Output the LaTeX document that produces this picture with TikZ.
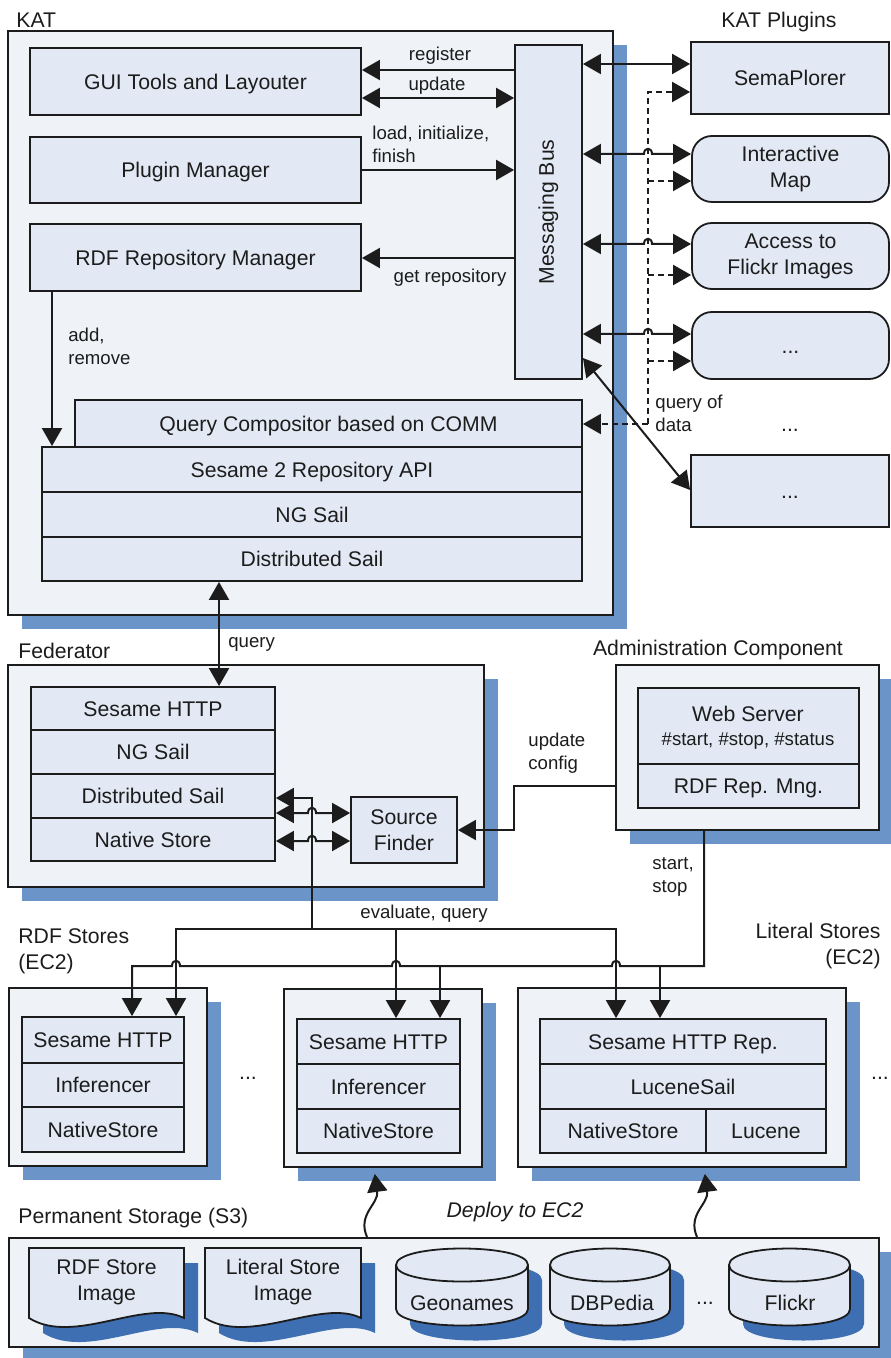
\documentclass[tikz,border=0pt]{standalone}
\usepackage{fontspec}
\usepackage{graphicx}
\setmainfont{Liberation Sans}
\usetikzlibrary{arrows.meta,shadows}
\definecolor{outerfill}{RGB}{239,243,248}
\definecolor{innerfill}{RGB}{226,233,244}
\definecolor{shlight}{RGB}{107,148,200}
\definecolor{shdark}{RGB}{62,111,178}
\definecolor{ink}{RGB}{28,28,28}
\newcommand\mainf{\fontsize{10.6}{13}\selectfont}
\newcommand\smallf{\fontsize{9.3}{11.4}\selectfont}
% box node from corner coordinates (pixel units)
\newcommand\bx[7][innerbox,oneline]{%
  \node[#1,minimum width={(#5-#3)*0.5pt},minimum height={(#6-#4)*0.5pt}] (#2) at ({(#3+#5)/2},{(#4+#6)/2}) {#7};}
\newcommand\dbcyl[2]{%
  \fill[shdark] ({#1+14},1280) -- ({#1+14},1324) .. controls ({#1+14},1346) and ({#2+14},1346) .. ({#2+14},1324) -- ({#2+14},1280) .. controls ({#2+14},1258) and ({#1+14},1258) .. ({#1+14},1280) -- cycle;
  \filldraw[fill=innerfill,draw=ink,line width=0.9pt] (#1,1265) -- (#1,1309) .. controls (#1,1331) and (#2,1331) .. (#2,1309) -- (#2,1265) .. controls (#2,1243) and (#1,1243) .. (#1,1265) -- cycle;
  \draw[draw=ink,line width=0.9pt] (#1,1265) .. controls (#1,1287) and (#2,1287) .. (#2,1265);
}
\newcommand\docshape[3]{%
  \begin{scope}[shift={({#1+14},{#2+15})}]
    \fill[shdark] (0,0) -- (#3,0) -- (#3,70) .. controls ({#3-40},50) and (45,98) .. (0,70) -- cycle;
  \end{scope}
  \begin{scope}[shift={(#1,#2)}]
    \filldraw[fill=innerfill,draw=ink,line width=0.9pt] (0,0) -- (#3,0) -- (#3,70) .. controls ({#3-40},50) and (45,98) .. (0,70) -- cycle;
  \end{scope}
}
\begin{document}
\begin{tikzpicture}[x=0.5pt,y=-0.5pt,
  >={Triangle[length=9pt,width=10pt]},
  outerbox/.style={draw=ink,line width=1pt,fill=outerfill,inner sep=0pt,
     drop shadow={shadow xshift=7pt,shadow yshift=-7pt,fill=shlight,opacity=1}},
  innerbox/.style={draw=ink,line width=0.9pt,fill=innerfill,inner sep=0pt,
     font=\mainf,text=ink,align=center},
  oneline/.style={text height=7.6pt,text depth=0pt},
  roundbox/.style={innerbox,rounded corners=10pt},
  title/.style={font=\mainf,text=ink,inner sep=0pt},
  lbl/.style={font=\smallf,text=ink,inner sep=0pt,align=left},
  conn/.style={draw=ink,line width=1pt},
  dsh/.style={conn,dash pattern=on 3pt off 2pt},
]
\useasboundingbox (0,0) rectangle (890,1358);

% ---------------- KAT ----------------
\node[title,anchor=west] (katl) at (16,20) {KAT};
\bx[outerbox]{kat}{8}{31}{613}{615}{}
\bx{gui}{30}{48}{361}{115}{GUI Tools and Layouter}
\bx{pm}{30}{137}{361}{203}{Plugin Manager}
\bx{rdfm}{30}{224}{361}{291}{RDF Repository Manager}
\bx[innerbox]{bus}{515}{45}{582}{379}{\rotatebox{90}{Messaging Bus}}
\bx{qc}{75}{400}{582}{447}{Query Compositor based on COMM}
\bx{s2}{42}{447}{582}{492}{Sesame 2 Repository API}
\bx{ng}{42}{492}{582}{537}{NG Sail}
\bx{ds}{42}{537}{582}{581}{Distributed Sail}

\draw[conn,->] (bus.west |- 0,70) -- (gui.east |- 0,70);
\draw[conn,<->] (gui.east |- 0,98) -- (bus.west |- 0,98);
\draw[conn,->] (pm.east |- 0,170) -- (bus.west |- 0,170);
\draw[conn,->] (bus.west |- 0,258) -- (rdfm.east |- 0,258);
\draw[conn,->] (rdfm.south -| 52,0) -- (s2.north -| 52,0);
\node[lbl] (lreg) at (440,56) {register};
\node[lbl] (lupd) at (437,86) {update};
\node[lbl,anchor=west] (lload) at (372,144) {load, initialize,\\finish};
\node[lbl] (lget) at (450,278) {get repository};
\node[lbl,anchor=west] (ladd) at (68,346) {add,\\remove};

% ---------------- Plugins ----------------
\node[title] (plugl) at (779,22) {KAT Plugins};
\bx{sema}{691}{42}{889}{114}{SemaPlorer}
\bx[roundbox]{imap}{692}{136}{889}{202}{Interactive\\Map}
\bx[roundbox]{flickr}{692}{223}{889}{289}{Access to\\Flickr Images}
\bx[roundbox,oneline]{pdots}{692}{312}{889}{379}{...}
\node[title] (pdotsb) at (790,430) {...};
\bx{pmore}{691}{455}{889}{527}{...}

\draw[conn,<->] (bus.east |- 0,64) -- (sema.west |- 0,64);
\draw[conn,<->] (bus.east |- 0,154) -- (644,154) .. controls (644,147) and (652,147) .. (652,154) -- (imap.west |- 0,154);
\draw[conn,<->] (bus.east |- 0,244) -- (644,244) .. controls (644,237) and (652,237) .. (652,244) -- (flickr.west |- 0,244);
\draw[conn,<->] (bus.east |- 0,334) -- (644,334) .. controls (644,327) and (652,327) .. (652,334) -- (pdots.west |- 0,334);
\coordinate (dq) at (648,424);
\draw[dsh,->] (dq) -- (qc.east |- dq);
\draw[dsh,->] (dq) -- (dq |- 0,92) -- (sema.west |- 0,92);
\draw[dsh,->] (dq |- 0,181) -- (imap.west |- 0,181);
\draw[dsh,->] (dq |- 0,275) -- (flickr.west |- 0,275);
\draw[dsh,->] (dq |- 0,361) -- (pdots.west |- 0,361);
\node[lbl,anchor=west] (lqod) at (655,413) {query of\\data};
\draw[conn,<->] (bus.east |- 0,358) -- (pmore.west |- 0,490);

% ---------------- Federator ----------------
\node[title,anchor=west] (fedl) at (18,651) {Federator};
\bx[outerbox]{fed}{8}{665}{484}{887}{}
\bx{fsh}{31}{687}{275}{730}{Sesame HTTP}
\bx{fng}{31}{730}{275}{774}{NG Sail}
\bx{fds}{31}{774}{275}{818}{Distributed Sail}
\bx{fns}{31}{818}{275}{861}{Native Store}
\bx[innerbox]{sf}{351}{797}{457}{863}{Source\\Finder}
\draw[conn,<->] (fsh.north -| 219,0) -- (ds.south -| 219,0);
\node[lbl,anchor=west] (lq) at (228,644) {query};

% ---------------- Administration ----------------
\node[title] (adml) at (718,650) {Administration Component};
\bx[outerbox]{adm}{616}{665}{879}{830}{}
\bx{web}{638}{688}{859}{764}{}
\node[title] (webt) at (748,714) {Web Server};
\node[lbl] (webc) at (748,741) {\#start, \#stop, \#status};
\bx{rrm}{638}{764}{859}{808}{RDF Rep. Mng.}
\draw[conn,->] (adm.west |- 0,786) -- (514,786) -- (514,830) -- (sf.east |- 0,830);
\node[lbl,anchor=west] (lupc) at (528,753) {update\\config};

% ---------------- Stores ----------------
\node[title,anchor=west,align=left] (rdfl) at (18,951) {RDF Stores\\(EC2)};
\node[title,anchor=east,align=right] (litl) at (881,946) {Literal Stores\\(EC2)};
\bx[outerbox]{rs1}{9}{988}{207}{1166}{}
\bx{r1sh}{22}{1017}{184}{1063}{Sesame HTTP}
\bx{r1in}{22}{1063}{184}{1107}{Inferencer}
\bx{r1ns}{22}{1107}{184}{1152}{NativeStore}
\node[title] (rdots) at (248,1078) {...};
\bx[outerbox]{rs2}{284}{989}{482}{1167}{}
\bx{r2sh}{297}{1019}{460}{1064}{Sesame HTTP}
\bx{r2in}{297}{1064}{460}{1109}{Inferencer}
\bx{r2ns}{297}{1109}{460}{1153}{NativeStore}
\bx[outerbox]{ls}{518}{988}{846}{1167}{}
\bx{lsh}{540}{1019}{826}{1064}{Sesame HTTP Rep.}
\bx{lls}{540}{1064}{826}{1109}{LuceneSail}
\bx{lns}{540}{1109}{706}{1153}{NativeStore}
\bx{llu}{706}{1109}{826}{1153}{Lucene}
\node[title] (ldots) at (880,1078) {...};

% evaluate, query
\coordinate (evq) at (312,929);
\draw[conn,<-] (fds.east |- 0,798) -- (evq |- 0,798) -- (evq);
\draw[conn,->] (evq) -- (176,929) -- (r1sh.north -| 176,0);
\draw[conn,->] (evq) -- (396,929) -- (r2sh.north -| 396,0);
\draw[conn,->] (evq) -- (616,929) -- (lsh.north -| 616,0);
\draw[conn,<->] (fds.east |- 0,813) -- (308,813) .. controls (308,806) and (316,806) .. (316,813) -- (sf.west |- 0,813);
\draw[conn,<->] (fns.east |- 0,841) -- (308,841) .. controls (308,834) and (316,834) .. (316,841) -- (sf.west |- 0,841);
\node[lbl] (leq) at (424,914) {evaluate, query};

% start, stop
\coordinate (ss) at (704,966);
\draw[conn,->] (adm.south -| ss) -- (ss) -- (620,966) .. controls (620,959) and (612,959) .. (612,966) -- (400,966) .. controls (400,959) and (392,959) .. (392,966) -- (180,966) .. controls (180,959) and (172,959) .. (172,966) -- (132,966) -- (r1sh.north -| 132,0);
\draw[conn,->] (660,966) -- (lsh.north -| 660,0);
\draw[conn,->] (440,966) -- (r2sh.north -| 440,0);
\node[lbl,anchor=west] (lss) at (652,877) {start,\\stop};

% ---------------- Permanent storage ----------------
\node[title,anchor=west] (psl) at (18,1218) {Permanent Storage (S3)};
\node[font=\mainf\itshape,text=ink,inner sep=0pt] (dep) at (515,1212) {Deploy to EC2};
\bx[outerbox]{ps}{9}{1238}{879}{1347}{}
\draw[conn,->,shorten >=3pt] (ps.north -| 367,0) .. controls (357,1214) and (379,1204) .. (rs2.south -| 374,0);
\draw[conn,->,shorten >=3pt] (ps.north -| 697,0) .. controls (687,1214) and (709,1204) .. (ls.south -| 704,0);

\docshape{29}{1248}{155}
\node[title,align=center] (doc1) at (106.5,1282) {RDF Store\\Image};
\docshape{205}{1248}{156}
\node[title,align=center] (doc2) at (283,1282) {Literal Store\\Image};

\dbcyl{396}{528}
\node[title,text height=7.6pt,text depth=0pt] (geo) at (462,1303) {Geonames};
\dbcyl{550}{670}
\node[title,text height=7.6pt,text depth=0pt] (dbp) at (612,1303) {DBPedia};
\node[title] (sdots) at (705,1303) {...};
\dbcyl{729}{850}
\node[title,text height=7.6pt,text depth=0pt] (flk) at (790,1303) {Flickr};
\end{tikzpicture}
\end{document}
